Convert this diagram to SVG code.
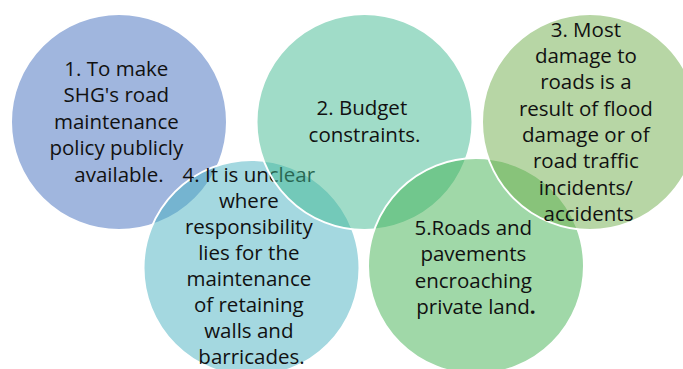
<svg xmlns="http://www.w3.org/2000/svg" width="683" height="369" viewBox="0 0 683 369">
<style>
  .c { stroke: #ffffff; stroke-width: 2; fill-opacity: 0.5; }
  .t { font-family: "Open Sans", "Noto Sans", "Liberation Sans", sans-serif; font-size: 20.5px; fill: #111111; text-anchor: middle; }
</style>
<rect width="683" height="369" fill="#ffffff"/>
<g id="node1">
  <circle class="c" cx="119" cy="122" r="108" fill="#416dbd"/>
  <text class="t">
    <tspan x="119" y="76">1. To make</tspan>
    <tspan x="119" y="102.3">SHG's road</tspan>
    <tspan x="119" y="128.6">maintenance</tspan>
    <tspan x="119" y="154.9">policy publicly</tspan>
    <tspan x="119" y="181.5">available.</tspan>
  </text>
</g>
<g id="node4">
  <circle class="c" cx="251.5" cy="268" r="108" fill="#49b1c1"/>
  <text class="t">
    <tspan x="251.5" y="181.5">4. It is unclear</tspan>
    <tspan x="251.5" y="207.6">where</tspan>
    <tspan x="251.5" y="233.7">responsibility</tspan>
    <tspan x="251.5" y="259.8">lies for the</tspan>
    <tspan x="251.5" y="285.9">maintenance</tspan>
    <tspan x="251.5" y="312">of retaining</tspan>
    <tspan x="251.5" y="338.1">walls and</tspan>
    <tspan x="251.5" y="364.2">barricades.</tspan>
  </text>
</g>
<g id="node2">
  <circle class="c" cx="364.5" cy="122" r="108" fill="#41b991"/>
  <text class="t">
    <tspan x="364.5" y="115">2. Budget</tspan>
    <tspan x="364.5" y="141.5">constraints.</tspan>
  </text>
</g>
<g id="node5">
  <circle class="c" cx="476" cy="266" r="108" fill="#41b151"/>
  <text class="t">
    <tspan x="476" y="235">5.Roads and</tspan>
    <tspan x="476" y="261.3">pavements</tspan>
    <tspan x="476" y="287.6">encroaching</tspan>
    <tspan x="476" y="313.9">private land<tspan font-weight="bold">.</tspan></tspan>
  </text>
</g>
<g id="node3">
  <circle class="c" cx="590" cy="122" r="108" fill="#6fad4b"/>
  <text class="t">
    <tspan x="588.5" y="36.7">3. Most</tspan>
    <tspan x="588.5" y="63">damage to</tspan>
    <tspan x="588.5" y="89.3">roads is a</tspan>
    <tspan x="588.5" y="115.6">result of flood</tspan>
    <tspan x="588.5" y="141.9">damage or of</tspan>
    <tspan x="588.5" y="168.2">road traffic</tspan>
    <tspan x="588.5" y="194.5">incidents/</tspan>
    <tspan x="588.5" y="220.8">accidents</tspan>
  </text>
</g>
</svg>
